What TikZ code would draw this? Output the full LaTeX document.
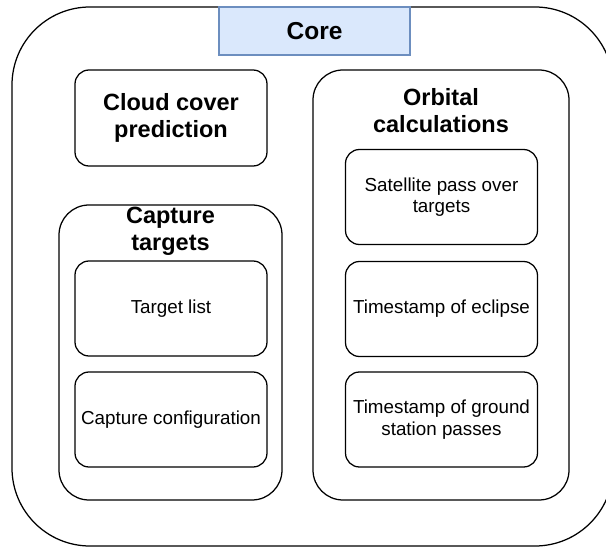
\documentclass[tikz,border=0pt]{standalone}
\usepackage{fontspec}
\setmainfont{Liberation Sans}
\definecolor{corefill}{HTML}{DAE8FC}
\definecolor{coredraw}{HTML}{6C8EBF}
\begin{document}
\begin{tikzpicture}[x=1pt,y=-1pt,
  every node/.style={inner sep=0pt, outer sep=0pt},
  frame/.style={draw=black, line width=1.25pt, fill=white},
  smallbox/.style={frame, rounded corners=14pt, minimum width=192pt, minimum height=95pt,
     align=center, font=\fontsize{18.8}{21.5}\selectfont},
  container/.style={frame, rounded corners=30pt},
  titletext/.style={align=center, font=\bfseries\fontsize{23.5}{27}\selectfont}
]
\useasboundingbox (0,0) rectangle (606,548);
\clip (0,0) rectangle (606,548);
% outer core frame
\node[frame, rounded corners=78pt, minimum width=601pt, minimum height=539pt] (outer) at (312.5,276.5) {};
% core label
\node[draw=coredraw, fill=corefill, line width=1.1pt, minimum width=191pt, minimum height=48pt,
      font=\bfseries\fontsize{24.5}{27}\selectfont] (core) at (314.5,31) {Core};
% cloud cover
\node[frame, rounded corners=14pt, minimum width=192pt, minimum height=96pt,
      titletext] (cloud) at (171,118) {Cloud cover\\prediction};
% capture targets container
\node[container, minimum width=223pt, minimum height=295pt] (capture) at (170.5,352.5) {};
\node[titletext] (capturetitle) at (170.5,231) {Capture\\targets};
\node[smallbox] (targetlist) at (171,308.5) {Target list};
\node[smallbox] (captureconf) at (171,419.5) {Capture configuration};
% orbital calculations container
\node[container, minimum width=256pt, minimum height=430pt] (orbital) at (441,285) {};
\node[titletext] (orbitaltitle) at (441,111) {Orbital\\calculations};
\node[smallbox] (satpass) at (441.5,197) {Satellite pass over\\targets};
\node[smallbox] (eclipse) at (441.5,309) {Timestamp of eclipse};
\node[smallbox] (ground) at (441.5,419.5) {Timestamp of ground\\station passes};
\end{tikzpicture}
\end{document}
